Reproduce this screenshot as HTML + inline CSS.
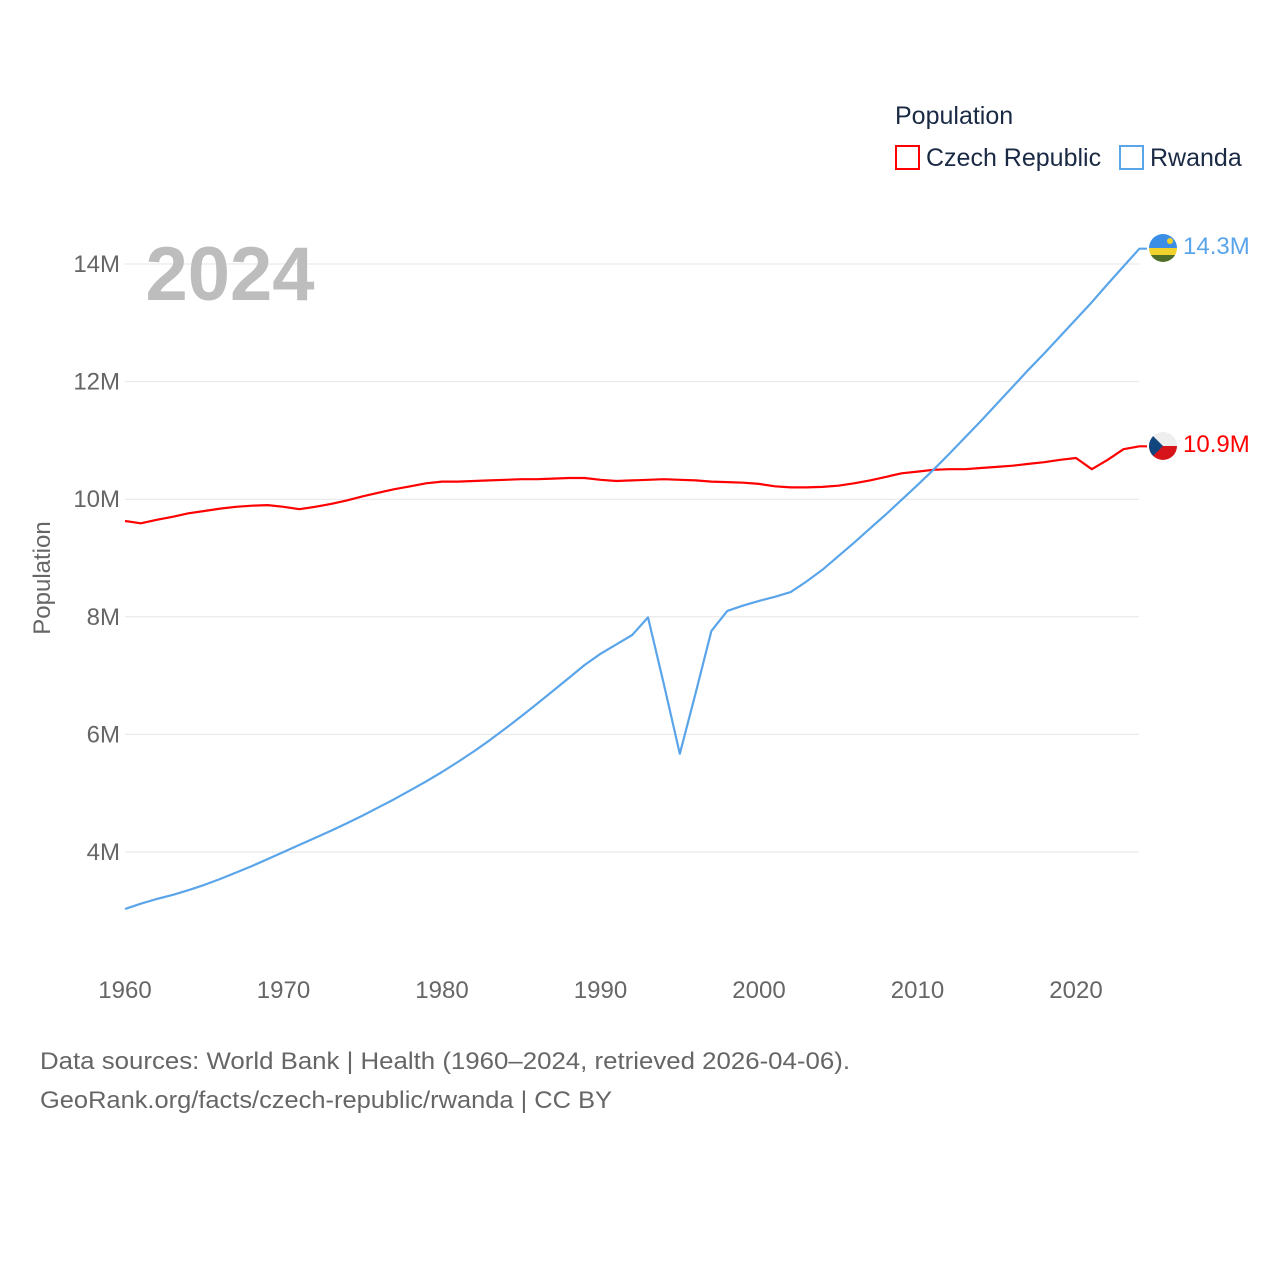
<!DOCTYPE html>
<html><head><meta charset="utf-8"><style>
html,body{margin:0;padding:0;background:#fff;}
svg{display:block;font-family:"Liberation Sans",sans-serif;}
</style></head><body>
<svg id="chart" width="1280" height="1280" viewBox="0 0 1280 1280">
<defs>
<clipPath id="rwc"><circle cx="1163" cy="248" r="14"/></clipPath>
<clipPath id="czc"><circle cx="1163" cy="446" r="14"/></clipPath>
</defs>
<g id="grid"></g>
<g id="yticks"></g>
<g id="xticks"></g>
<text x="230" y="300" font-size="76" font-weight="bold" fill="#bdbdbd" text-anchor="middle">2024</text>
<text x="50" y="578" font-size="24" fill="#666" text-anchor="middle" transform="rotate(-90 50 578)">Population</text>
<g id="series"></g>
<g>
<text x="895" y="124" font-size="25" fill="#1a2a44">Population</text>
<g><rect x="896" y="146" width="23" height="23" fill="none" stroke="red" stroke-width="2"/><text x="926" y="166" font-size="25" fill="#1a2a44">Czech Republic</text></g>
<g><rect x="1120" y="146" width="23" height="23" fill="none" stroke="#5aa5ea" stroke-width="2"/><text x="1150" y="166" font-size="25" fill="#1a2a44">Rwanda</text></g>
</g>
<g clip-path="url(#rwc)">
<rect x="1149" y="234" width="28" height="14" fill="#3a8ee6"/><rect x="1149" y="248" width="28" height="7" fill="#f1d12b"/><rect x="1149" y="255" width="28" height="7" fill="#4f6e2a"/><circle cx="1170" cy="241" r="3" fill="#f1d12b"/>
</g>
<g clip-path="url(#czc)">
<rect x="1149" y="432" width="28" height="14" fill="#eee"/><rect x="1149" y="446" width="28" height="14" fill="#d7141a"/><polygon points="1149,432 1163,446 1149,460" fill="#11457e"/>
</g>
<text x="1183" y="254" font-size="24" fill="#5aa5ea">14.3M</text>
<text x="1183" y="452" font-size="24" fill="red">10.9M</text>
<text x="40" y="1069" font-size="24" fill="#666" textLength="810" lengthAdjust="spacingAndGlyphs">Data sources: World Bank | Health (1960–2024, retrieved 2026-04-06).</text>
<text x="40" y="1108" font-size="24" fill="#666" textLength="572" lengthAdjust="spacingAndGlyphs">GeoRank.org/facts/czech-republic/rwanda | CC BY</text>
</svg>
<script>
const years=[];for(let y=1960;y<=2024;y++)years.push(y);
const yTicks=[4,6,8,10,12,14];
const yTickLabels=["4M","6M","8M","10M","12M","14M"];
const xTicks=[1960,1970,1980,1990,2000,2010,2020];
const czech=[9.63,9.59,9.65,9.7,9.76,9.8,9.84,9.87,9.89,9.9,9.87,9.83,9.87,9.92,9.98,10.05,10.11,10.17,10.22,10.27,10.3,10.3,10.31,10.32,10.33,10.34,10.34,10.35,10.36,10.36,10.33,10.31,10.32,10.33,10.34,10.33,10.32,10.3,10.29,10.28,10.26,10.22,10.2,10.2,10.21,10.23,10.27,10.32,10.38,10.44,10.47,10.5,10.51,10.51,10.53,10.55,10.57,10.6,10.63,10.67,10.7,10.51,10.67,10.85,10.9];
const rwanda=[3.03,3.12,3.2,3.27,3.35,3.44,3.54,3.65,3.76,3.88,4.0,4.12,4.24,4.36,4.49,4.62,4.76,4.9,5.05,5.2,5.36,5.53,5.71,5.9,6.1,6.31,6.52,6.74,6.96,7.18,7.37,7.53,7.69,7.99,6.85,5.67,6.7,7.76,8.1,8.19,8.27,8.34,8.42,8.6,8.8,9.03,9.26,9.5,9.74,9.99,10.24,10.5,10.77,11.05,11.33,11.62,11.91,12.2,12.48,12.77,13.06,13.35,13.66,13.96,14.26];
const NS="http://www.w3.org/2000/svg";
const xS=y=>125+(y-1960)*(951/60);
const yS=v=>852-(v-4)*58.8;
function mk(tag,attrs,parent){const e=document.createElementNS(NS,tag);for(const k in attrs)e.setAttribute(k,attrs[k]);parent.appendChild(e);return e;}
const grid=document.getElementById('grid'),yt=document.getElementById('yticks'),xt=document.getElementById('xticks'),ser=document.getElementById('series');
yTicks.forEach((v,i)=>{
 const l=mk('line',{x1:125,x2:1139,y1:yS(v),y2:yS(v),stroke:'#e6e6e6','stroke-width':1},grid);
 
 
 const t=mk('text',{x:120,y:yS(v)+8,'font-size':24,fill:'#666','text-anchor':'end'},yt);
 t.textContent=yTickLabels[i];
 
 
});
xTicks.forEach(y=>{
 const t=mk('text',{x:xS(y),y:998,'font-size':24,fill:'#666','text-anchor':'middle'},xt);
 t.textContent=y;
 
 
});
function line(data,color,name){
 let d=data.map((v,i)=>(i?'L':'M')+xS(years[i]).toFixed(1)+','+yS(v).toFixed(1)).join('');
 d+='L1147,'+yS(data[data.length-1]).toFixed(1);
 const p=mk('path',{d:d,fill:'none',stroke:color,'stroke-width':2.2,'stroke-linejoin':'round'},ser);
 
 
}
line(czech,'red','czech-line');
line(rwanda,'#5aa5ea','rwanda-line');
</script>
</body></html>
